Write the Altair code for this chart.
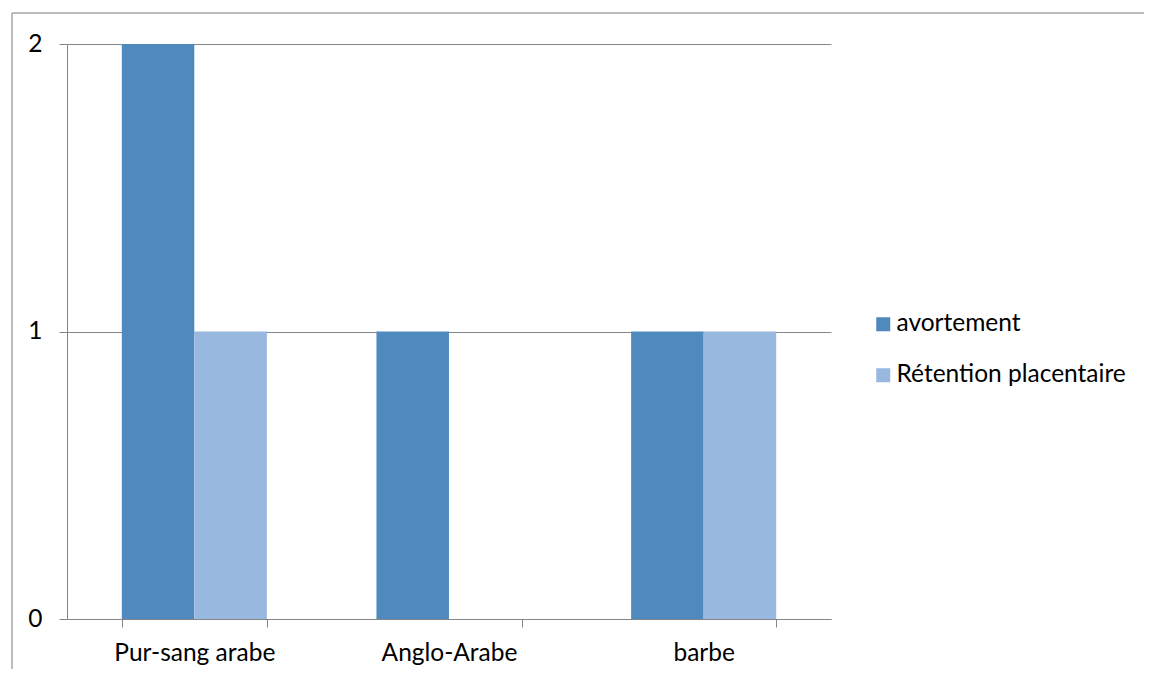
import altair as alt
import pandas as pd

categories = ["Pur-sang arabe", "Anglo-Arabe", "barbe"]
avortement = [2, 1, 1]
retention = [1, 0, 1]
series_names = ["avortement", "Rétention placentaire"]
colors = ["#4f89bd", "#99b8df"]

rows = []
for c, a, r in zip(categories, avortement, retention):
    rows.append({"race": c, "serie": series_names[0], "valeur": a})
    rows.append({"race": c, "serie": series_names[1], "valeur": r})
df = pd.DataFrame(rows)

FONT = "Lato"
FS = 24.5

bars = alt.Chart(df).mark_bar(size=72.5).encode(
    x=alt.X("race:N", sort=categories, title=None,
            scale=alt.Scale(paddingInner=0.43, paddingOuter=0.215),
            axis=alt.Axis(labelAngle=0, tickBand="extent", tickSize=8,
                          domainColor="#868686", tickColor="#868686",
                          labelPadding=14, labelFontSize=FS, labelFont=FONT,
                          labelColor="#000000", grid=False)),
    xOffset=alt.XOffset("serie:N", sort=series_names,
                        scale=alt.Scale(paddingInner=0, paddingOuter=0)),
    y=alt.Y("valeur:Q", title=None,
            scale=alt.Scale(domain=[0, 2], nice=False),
            axis=alt.Axis(values=[0, 1, 2], labelExpr="toString(round(datum.value))",
                          tickSize=8, ticks=True, grid=True,
                          domainColor="#868686", tickColor="#868686",
                          gridColor="#868686", gridOpacity=1, labelPadding=17,
                          labelOverlap=False,
                          labelFontSize=FS, labelFont=FONT, labelColor="#000000")),
    color=alt.Color("serie:N", sort=series_names, title=None,
                    scale=alt.Scale(domain=series_names, range=colors),
                    legend=alt.Legend(orient="none", legendX=804, legendY=268,
                                      symbolType="square", symbolSize=196,
                                      symbolStrokeWidth=0, labelLimit=400,
                                      labelFontSize=FS, labelFont=FONT,
                                      labelColor="#000000", rowPadding=26,
                                      labelOffset=1)),
)

frame_data = alt.Data(values=[{"f": 1}])
frame_top = alt.Chart(frame_data).mark_rule(color="#a6a6a6", strokeWidth=1.5).encode(
    x=alt.value(-55), x2=alt.value(1300), y=alt.value(-31)
)
frame_left = alt.Chart(frame_data).mark_rule(color="#a6a6a6", strokeWidth=1.5).encode(
    x=alt.value(-55), y=alt.value(-31), y2=alt.value(800)
)

chart = alt.layer(bars, frame_top, frame_left).properties(
    width=764, height=575,
    autosize=alt.AutoSizeParams(type="none"),
    padding={"left": 59, "top": 36, "right": 313, "bottom": 50},
    background="white",
).configure_view(stroke=None)

chart.save("out.html", embed_options={"renderer": "svg", "actions": False})
